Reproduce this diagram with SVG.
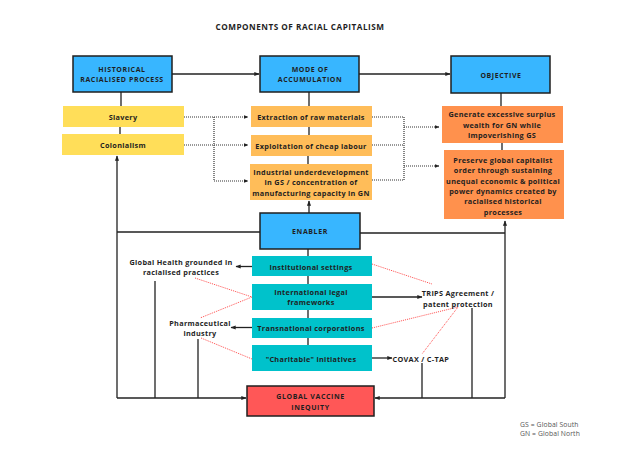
<svg xmlns="http://www.w3.org/2000/svg" width="621" height="466" viewBox="0 0 621 466">
<defs>
<style>
text{font-family:"Open Sans","Liberation Sans",sans-serif;font-weight:700;font-size:7.3px;letter-spacing:0.3px;fill:#1f1f1f;text-anchor:middle;dominant-baseline:central}
.hd{font-size:7px;letter-spacing:0.6px}
.title{font-size:8.2px;letter-spacing:0.5px}
.leg{font-weight:400;font-size:6.8px;letter-spacing:0.1px;fill:#555;text-anchor:start}
.blue{fill:#38B6FF;stroke:#1f1f1f;stroke-width:1.5}
.red{fill:#FF5757;stroke:#1f1f1f;stroke-width:1.5}
.yel{fill:#FFDE59}
.org{fill:#FFBD59}
.dorg{fill:#FF914D}
.teal{fill:#00C2CB}
.ln{fill:none;stroke:#222;stroke-width:1.3}
.dot{fill:none;stroke:#333;stroke-width:1.2;stroke-dasharray:1 1}
.rdot{fill:none;stroke:#FF4D4D;stroke-width:1;stroke-dasharray:1 1}
</style>
<marker id="ah" viewBox="0 0 10 10" refX="9" refY="5" markerWidth="4" markerHeight="4" orient="auto">
<path d="M0,1 L10,5 L0,9 z" fill="#222"/>
</marker>
</defs>
<rect width="621" height="466" fill="#fff"/>
<text class="title" x="300" y="26">COMPONENTS OF RACIAL CAPITALISM</text>

<g id="connectors">
<path class="ln" d="M172,74 H259" marker-end="url(#ah)"/>
<path class="ln" d="M359,74 H450" marker-end="url(#ah)"/>
<path class="ln" d="M121,92 V106 M120,127 V134"/>
<path class="ln" d="M309,92 V106 M309,127 V135 M308,156 V164"/>
<path class="ln" d="M501,93 V106 M502,143 V150"/>
<path class="ln" d="M309,213 V201" marker-end="url(#ah)"/>
<path class="ln" d="M260,232 H117 M117,398 V156" marker-end="url(#ah)"/>
<path class="ln" d="M360,233 H505 M505,398 V221" marker-end="url(#ah)"/>
<path class="ln" d="M308,249 V256 M308,276 V284 M308,310 V318 M308,338 V345"/>
<path class="ln" d="M252,266.5 H236" marker-end="url(#ah)"/>
<path class="ln" d="M252,327.5 H231" marker-end="url(#ah)"/>
<path class="ln" d="M372,297 H422" marker-end="url(#ah)"/>
<path class="ln" d="M372,358 H392" marker-end="url(#ah)"/>
<path class="ln" d="M117,398 H246" marker-end="url(#ah)"/>
<path class="ln" d="M155,281 V398 M198,339 V398"/>
<path class="ln" d="M505,398 H375" marker-end="url(#ah)"/>
<path class="ln" d="M422,363 V398 M472,308 V398"/>
<path class="dot" d="M184,117 H248" marker-end="url(#ah)"/>
<path class="dot" d="M184,145 H248" marker-end="url(#ah)"/>
<path class="dot" d="M214,117 V181 H248" marker-end="url(#ah)"/>
<path class="dot" d="M372,117 H404 M372,145 H404 M372,180 H404 M404,117 V180"/>
<path class="dot" d="M404,127 H439" marker-end="url(#ah)"/>
<path class="dot" d="M404,166 H439" marker-end="url(#ah)"/>
<path class="rdot" d="M195,278 L252,297 L200,318 M201,338 L252,359"/>
<path class="rdot" d="M372,264 L432,284 M372,328 L458,307 L422,354"/>
</g>

<g id="historical"><rect class="blue" x="73" y="56" width="99" height="36"/><text class="hd" x="122" y="69">HISTORICAL</text><text class="hd" x="122" y="79.5">RACIALISED PROCESS</text></g>
<g id="mode"><rect class="blue" x="260" y="56" width="99" height="36"/><text class="hd" x="310" y="69">MODE OF</text><text class="hd" x="310" y="79.5">ACCUMULATION</text></g>
<g id="objective"><rect class="blue" x="451" y="56" width="99" height="37"/><text class="hd" x="501" y="75">OBJECTIVE</text></g>

<g id="slavery"><rect class="yel" x="63" y="106" width="121" height="21"/><text x="123" y="117">Slavery</text></g>
<g id="colonialism"><rect class="yel" x="62" y="134" width="122" height="21"/><text x="123" y="145">Colonialism</text></g>

<g id="extraction"><rect class="org" x="251" y="106" width="121" height="21"/><text x="311" y="117">Extraction of raw materials</text></g>
<g id="exploitation"><rect class="org" x="251" y="135" width="121" height="21"/><text x="311" y="145.5">Exploitation of cheap labour</text></g>
<g id="industrial"><rect class="org" x="250" y="164" width="122" height="36"/><text x="311" y="171.5">Industrial underdevelopment</text><text x="311" y="182">in GS / concentration of</text><text x="311" y="192.5">manufacturing capacity in GN</text></g>

<g id="generate"><rect class="dorg" x="442" y="106" width="121" height="37"/><text x="502" y="114">Generate excessive surplus</text><text x="502" y="124.5">wealth for GN while</text><text x="502" y="135">impoverishing GS</text></g>
<g id="preserve"><rect class="dorg" x="444" y="150" width="120" height="69"/><text x="503" y="159.5">Preserve global capitalist</text><text x="503" y="170">order through sustaining</text><text x="503" y="180.5">unequal economic &amp; political</text><text x="503" y="191">power dynamics created by</text><text x="503" y="201">racialised historical</text><text x="503" y="211.5">processes</text></g>

<g id="enabler"><rect class="blue" x="260" y="213" width="100" height="36"/><text class="hd" x="310" y="231">ENABLER</text></g>

<g id="institutional"><rect class="teal" x="252" y="256" width="120" height="20"/><text x="311" y="266.5">Institutional settings</text></g>
<g id="legal"><rect class="teal" x="252" y="284" width="120" height="26"/><text x="311" y="292">International legal</text><text x="311" y="302">frameworks</text></g>
<g id="transnational"><rect class="teal" x="252" y="318" width="120" height="20"/><text x="311" y="328">Transnational corporations</text></g>
<g id="charitable"><rect class="teal" x="252" y="345" width="120" height="26"/><text x="311" y="358.5">"Charitable" initiatives</text></g>

<g id="globalhealth"><text x="181" y="262">Global Health grounded in</text><text x="181" y="272">racialised practices</text></g>
<g id="pharma"><text x="200" y="323">Pharmaceutical</text><text x="200" y="333">industry</text></g>
<g id="trips"><text x="458" y="293">TRIPS Agreement /</text><text x="458" y="303.5">patent protection</text></g>
<g id="covax"><text x="392.5" y="358.5" style="text-anchor:start">COVAX / C-TAP</text></g>

<g id="inequity"><rect class="red" x="247" y="386" width="127" height="30"/><text class="hd" x="310.5" y="396">GLOBAL VACCINE</text><text class="hd" x="310.5" y="407">INEQUITY</text></g>

<g id="legend"><text class="leg" x="520" y="424">GS = Global South</text><text class="leg" x="520" y="433.5">GN = Global North</text></g>
</svg>
